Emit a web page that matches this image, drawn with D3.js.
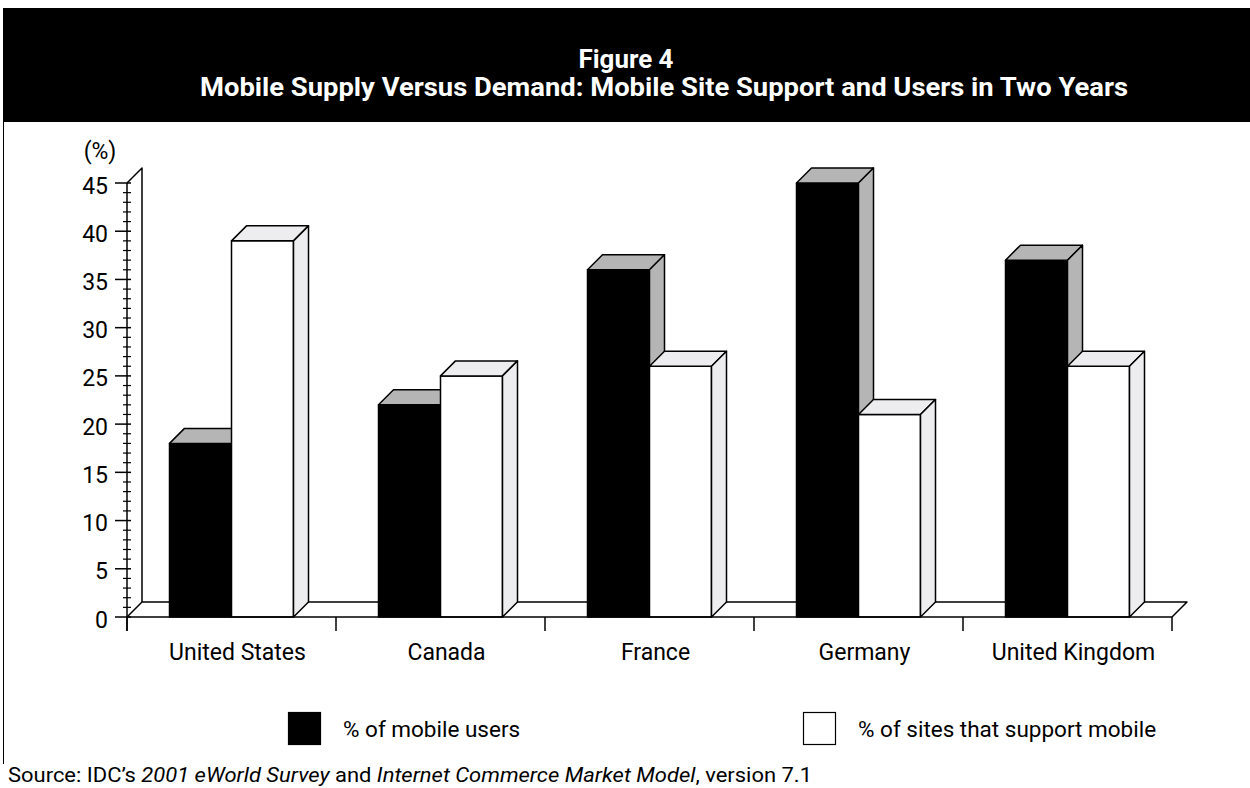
<!DOCTYPE html>
<html>
<head>
<meta charset="utf-8">
<script src="https://cdn.jsdelivr.net/npm/d3@7"></script>
<style>
  body { margin: 0; background: #fff; }
  svg text { font-family: Roboto, "Liberation Sans", sans-serif; fill: #000; }
</style>
</head>
<body>
<svg id="chart" width="1250" height="788"></svg>
<script>
// Survey data: share of mobile users vs. share of sites supporting mobile, by country
const countries = ["United States", "Canada", "France", "Germany", "United Kingdom"];
const mobileUsers = [18, 22, 36, 45, 37];
const sitesSupport = [39, 25, 26, 21, 26];
const yTicks = [0, 5, 10, 15, 20, 25, 30, 35, 40, 45];
const seriesNames = ["% of mobile users", "% of sites that support mobile"];
const titleLines = ["Figure 4", "Mobile Supply Versus Demand: Mobile Site Support and Users in Two Years"];

const svg = d3.select("#chart");
const W = 1250;

// layout
const plot = { left: 127, right: 1172, top: 183, bottom: 617 };
const depth = 15;         // 3-D offset of the back wall / bar depth
const barW = 62;

const x = d3.scaleBand().domain(countries).range([plot.left, plot.right]);
const y = d3.scaleLinear().domain([0, 45]).range([plot.bottom, plot.top]);

// ---- header (condensed bold title on a black band) ----
svg.append("rect").attr("x", 3).attr("y", 8).attr("width", W - 3).attr("height", 114).attr("fill", "#000");
svg.append("text").attr("x", 626).attr("y", 68).attr("text-anchor", "middle")
  .attr("textLength", 95).attr("lengthAdjust", "spacingAndGlyphs")
  .style("font-size", "26px").style("font-weight", 700).style("fill", "#fff")
  .text(titleLines[0]);
svg.append("text").attr("x", 664).attr("y", 96).attr("text-anchor", "middle")
  .attr("textLength", 928).attr("lengthAdjust", "spacingAndGlyphs")
  .style("font-size", "26px").style("font-weight", 700).style("fill", "#fff")
  .text(titleLines[1]);

// left frame rule
svg.append("line").attr("x1", 3.5).attr("x2", 3.5).attr("y1", 122).attr("y2", 764)
  .attr("stroke", "#000").attr("stroke-width", 1);

const g = svg.append("g");
const stroke = { stroke: "#000", "stroke-width": 1.5, "stroke-linejoin": "round" };
function applyStroke(sel) { Object.entries(stroke).forEach(([k, v]) => sel.attr(k, v)); return sel; }

// ---- floor and back wall ----
const floor = d3.path();
floor.moveTo(plot.left, plot.bottom);
floor.lineTo(plot.left + depth, plot.bottom - depth);
floor.lineTo(plot.right + depth, plot.bottom - depth);
floor.lineTo(plot.right, plot.bottom);
applyStroke(g.append("path").attr("d", floor.toString()).attr("fill", "none"));

const wall = d3.path();
wall.moveTo(plot.left + depth, plot.bottom - depth);
wall.lineTo(plot.left + depth, y(45) - depth);
wall.lineTo(plot.left, y(45));
applyStroke(g.append("path").attr("d", wall.toString()).attr("fill", "none"));

// ---- 3-D bars ----
function bar3d(x0, x1, value, front, shade) {
  const yt = y(value), yb = y(0);
  applyStroke(g.append("rect").attr("x", x0).attr("y", yt).attr("width", x1 - x0).attr("height", yb - yt).attr("fill", front));
  applyStroke(g.append("path").attr("fill", shade)
    .attr("d", `M${x0},${yt}L${x0 + depth},${yt - depth}L${x1 + depth},${yt - depth}L${x1},${yt}Z`));
  applyStroke(g.append("path").attr("fill", shade)
    .attr("d", `M${x1},${yt}L${x1 + depth},${yt - depth}L${x1 + depth},${yb - depth}L${x1},${yb}Z`));
}
countries.forEach((c, i) => {
  const cx = x(c) + x.bandwidth() / 2;
  bar3d(cx - barW, cx, mobileUsers[i], "#000", "#b5b5b5");
  bar3d(cx, cx + barW, sitesSupport[i], "#fff", "#ededef");
});

// ---- y axis ----
const yAxis = g.append("g");
applyStroke(yAxis.append("line").attr("x1", plot.left).attr("x2", plot.left).attr("y1", y(45)).attr("y2", plot.bottom + 14));
d3.range(0, 46).forEach(v => {
  const major = v % 5 === 0;
  applyStroke(yAxis.append("line")
    .attr("x1", plot.left - (major ? 12 : 4)).attr("x2", plot.left + 4)
    .attr("y1", y(v)).attr("y2", y(v))).attr("stroke-width", major ? 1.5 : 1.2);
});
yAxis.selectAll("text.tick").data(yTicks).join("text")
  .attr("class", "tick").attr("x", plot.left - 19).attr("y", d => y(d) + 10.5)
  .attr("text-anchor", "end").style("font-size", "23px").text(d => d);
yAxis.append("text").attr("x", 100).attr("y", 159).attr("text-anchor", "middle")
  .style("font-size", "23px").text("(%)");

// ---- x axis ----
const xAxis = g.append("g");
applyStroke(xAxis.append("line").attr("x1", plot.left).attr("x2", plot.right).attr("y1", plot.bottom).attr("y2", plot.bottom));
const bounds = countries.map(c => x(c)).concat([plot.right]);
bounds.forEach(bx => applyStroke(xAxis.append("line").attr("x1", bx).attr("x2", bx).attr("y1", plot.bottom).attr("y2", plot.bottom + 14)));
xAxis.selectAll("text").data(countries).join("text")
  .attr("x", d => x(d) + x.bandwidth() / 2 + 6).attr("y", 660)
  .attr("text-anchor", "middle").style("font-size", "23px").text(d => d);

// ---- legend ----
const legend = svg.append("g");
const legendX = [288, 803];
const legendFill = ["#000", "#fff"];
seriesNames.forEach((name, i) => {
  legend.append("rect").attr("x", legendX[i] + 0.5).attr("y", 712.5).attr("width", 32).attr("height", 32)
    .attr("fill", legendFill[i]).attr("stroke", "#000").attr("stroke-width", 1.2);
  legend.append("text").attr("x", legendX[i] + 55).attr("y", 737).style("font-size", "22.5px").text(name);
});

// ---- source note ----
const src = svg.append("text").attr("x", 8).attr("y", 782).style("font-size", "21px")
  .attr("textLength", 804).attr("lengthAdjust", "spacingAndGlyphs");
src.append("tspan").text("Source: IDC’s ");
src.append("tspan").style("font-style", "italic").text("2001 eWorld Survey");
src.append("tspan").text(" and ");
src.append("tspan").style("font-style", "italic").text("Internet Commerce Market Model");
src.append("tspan").text(", version 7.1");
</script>
</body>
</html>
